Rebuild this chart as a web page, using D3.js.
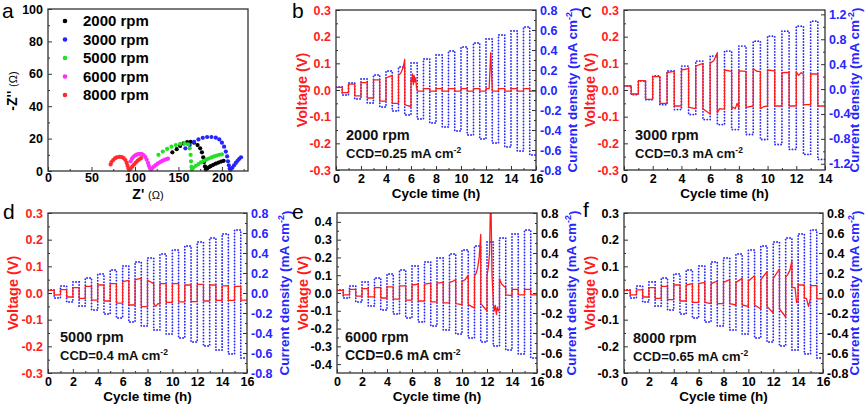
<!DOCTYPE html>
<html><head><meta charset="utf-8">
<script src="https://cdn.jsdelivr.net/npm/d3@7"></script>
<style>
body{margin:0;background:#fff}
svg{font-family:"Liberation Sans",Arial,sans-serif;font-weight:bold}
</style></head><body>
<svg id="chart" width="865" height="409"></svg>
<script>
// ---------- DATA ----------
const eisLegend = ["2000 rpm","3000 rpm","5000 rpm","6000 rpm","8000 rpm"];
const eisColors = ["#000000","#2424ff","#22e022","#ff2cff","#ff2a2a"];
const eis2000 = [[143,11.5],[148,13.5],[152,15.5],[156,17],[160,17.8],[164,18],[168,17.5],[172,16],[175,14],[177,11.5],[178.5,8.5],[179.5,5.5],[180.5,2.8],[181.5,1],[183,1.5],[185,2.3],[187,3],[190,3.8],[193,4.5],[196,5.2],[199,5.8],[202,6.3]];
const eis3000 = [[158,14],[163,16],[168,18],[173,19.5],[178,20.5],[183,21],[188,21],[193,20.6],[197,19.5],[200,17.5],[202.5,15],[204.5,12],[206,9],[207,6],[208,3.5],[209,1.5],[210,0.8],[212,2],[214,3.5],[216,5],[218,6.3],[220,7.5],[222,8.5]];
const eis5000 = [[127,10],[132,12],[137,13.6],[142,15],[147,16],[152,16.7],[157,17],[161,16.5],[163,14],[164,10],[164.5,6],[165,2.5],[165.5,1],[167,2],[170,3.2],[173,4.3],[176,5.3],[179,6.2],[182,7],[185,7.7],[188,8.4],[191,9],[194,9.5],[197,10],[200,10.3]];
const eis6000 = [[95,6],[96.5,7.5],[98,8.6],[100,9.5],[102,10.1],[104,10.5],[106,10.6],[108,10.4],[110,9.8],[112,8.6],[113.5,7],[115,5],[116,3.2],[117,1.8],[118.5,1],[120,1.8],[122,2.8],[124,3.7],[126,4.5],[128,5.2],[130,5.8],[132,6.4],[134,6.9],[136,7.3],[138,7.6]];
const eis8000 = [[72,4],[73,5.5],[75,6.8],[77,7.8],[79,8.4],[82,8.7],[85,8.6],[87,8],[89,6.8],[90.5,5],[91.5,3.2],[92.5,1.5],[93.5,0.8],[95,1.5],[97,2.8],[99,4],[101,5.2],[103,6.3],[105,7.2],[107,8]];
const eisXTicks = [0,50,100,150,200];
const eisXMinor = [25,75,125,175,225];
const eisYTicks = [0,20,40,60,80,100];
const eisYMinor = [10,30,50,70,90];

const timeTicks16 = [0,2,4,6,8,10,12,14,16];
const timeMinor16 = [1,3,5,7,9,11,13,15];
const timeTicks14 = [0,2,4,6,8,10,12,14];
const timeMinor14 = [1,3,5,7,9,11,13];
const voltTicks = [-0.3,-0.2,-0.1,0,0.1,0.2,0.3];
const voltMinor = [-0.25,-0.15,-0.05,0.05,0.15,0.25];
const voltTicksE = [-0.4,-0.3,-0.2,-0.1,0,0.1,0.2,0.3,0.4];
const voltMinorE = [-0.35,-0.25,-0.15,-0.05,0.05,0.15,0.25,0.35];
const currentTicks = [-0.8,-0.6,-0.4,-0.2,0,0.2,0.4,0.6,0.8];
const currentMinor = [-0.7,-0.5,-0.3,-0.1,0.1,0.3,0.5,0.7];
const currentTicksC = [-1.2,-0.8,-0.4,0,0.4,0.8,1.2];
const currentMinorC = [-1.0,-0.6,-0.2,0.2,0.6,1.0];

// current amplitude for each half-hour step (sign alternates +,-)
const currentHalf = [0.03,0.05,0.07,0.09,0.11,0.13,0.15,0.17,0.19,0.21,0.23,0.25,0.27,0.29,0.31,0.33,0.35,0.37,0.39,0.41,0.43,0.45,0.47,0.49,0.51,0.53,0.55,0.57,0.59,0.61,0.63,0.65];
const currentHalfC = [0.05,0.09,0.13,0.17,0.21,0.25,0.29,0.33,0.37,0.41,0.45,0.49,0.53,0.57,0.61,0.65,0.69,0.73,0.77,0.81,0.85,0.89,0.93,0.97,1.01,1.05,1.09,1.13];

// voltage samples within each half-hour step
const voltB = [0.01,-0.01,0.022,-0.022,0.028,-0.03,0.038,-0.042,[0.045,0.05,0.055],-0.05,[0.055,0.06,0.07,0.085,0.115],[-0.055,-0.058,-0.06,-0.062],[0.04,0.03,0.06,0.02,0.055,0.03,0.045,0.01,0.0],-0.004,0.005,-0.004,0.005,-0.004,0.005,-0.004,0.005,-0.004,0.005,-0.004,[0.005,0.005,0.005,0.14,0.005],-0.004,0.005,-0.004,0.005,-0.004,0.005,-0.004];
const voltC = [0.015,-0.015,0.035,-0.035,0.05,-0.05,[0.065,0.07],-0.06,[0.075,0.08],[-0.065,-0.07],[0.09,0.1],[-0.07,-0.09],[0.1,0.11,0.14],[-0.085,-0.07,-0.072,-0.07],[0.075,0.07],[-0.07,-0.065,-0.07,-0.05,-0.068],[0.072,0.07],[-0.065,-0.06],[0.08,0.07,0.07],[-0.07,-0.062,-0.06],[0.075,0.072],-0.06,[0.065,0.066],-0.06,[0.068,0.055,0.065,0.06],-0.055,0.06,-0.06];
const voltD = [0.01,-0.007,0.013,-0.015,0.02,-0.02,0.025,-0.027,0.03,-0.03,0.035,-0.038,[0.043,0.047],-0.045,[0.05,0.055],[-0.05,-0.052],[0.048,0.035],[-0.04,-0.05,-0.04,-0.042],0.035,-0.035,0.035,-0.033,0.03,-0.032,0.032,-0.03,0.03,-0.028,0.027,-0.028,0.025,-0.027];
const voltE = [0.015,-0.01,0.02,-0.018,0.025,-0.022,0.03,-0.028,0.035,-0.035,0.04,-0.04,[0.045,0.05],-0.045,[0.05,0.055],-0.05,[0.055,0.06],-0.055,[0.06,0.065,0.075],[-0.06,-0.065],[0.065,0.075,0.1],[-0.065,-0.075,-0.085],[0.095,0.11,0.14,0.2,0.33],[-0.06,-0.08,-0.1],[0.1,0.14,0.22,0.6,0.1,-0.04],[-0.06,-0.1,-0.07,-0.12,-0.08,-0.1,-0.09],[0.08,0.05,0.04,0.03],[-0.01,-0.015],0.02,-0.01,0.02,-0.01];
const voltF = [0.01,-0.007,0.012,-0.015,0.02,-0.02,0.025,-0.025,0.03,-0.03,[0.03,0.035],-0.035,[0.035,0.04],[-0.035,-0.04],[0.035,0.045],-0.04,[0.04,0.05],[-0.04,-0.045],[0.04,0.055],[-0.045,-0.05],[0.045,0.065],[-0.045,-0.06],[0.05,0.08],[-0.05,-0.075],[0.055,0.09],[-0.06,-0.09],[0.06,0.07,0.085,0.12],[0.02,0.02,0.02,-0.035,-0.03],0.03,[-0.02,-0.02,-0.05,-0.02],0.028,-0.022];

const rpmLabels = ["2000 rpm","3000 rpm","5000 rpm","6000 rpm","8000 rpm"];
const ccdValues = ["0.25","0.3","0.4","0.6","0.65"];

// ---------- DRAW ----------
const svg = d3.select("#chart");
const RED = "#ff1c1c", BLUE = "#2626ff", FRAME = "#333333";
const FONT = "'Liberation Sans', Arial, sans-serif";
const TICK_FS = 12.5;
const fmt1 = v => (Math.abs(v) < 1e-9 ? 0 : v).toFixed(1);

function styleAxis(a, color){
  a.attr("font-family", FONT).attr("font-size", TICK_FS).attr("font-weight","bold");
  a.select(".domain").remove();
  a.selectAll("line").attr("stroke", FRAME).attr("stroke-width", 1);
  a.selectAll("text").attr("fill", color);
}
function axisPair(g, gen, ticks, minor, fmt, transform, color, pad){
  const a = g.append("g").attr("transform", transform)
    .call(gen.tickValues(ticks).tickSizeInner(-4).tickSizeOuter(0).tickPadding(pad).tickFormat(fmt));
  styleAxis(a, color);
  const m = g.append("g").attr("transform", transform)
    .call(gen.tickValues(minor).tickSizeInner(-2).tickSizeOuter(0).tickFormat(""));
  styleAxis(m, color);
}
function rotText(g, x, y, angle, color, size){
  return g.append("text").attr("transform", `translate(${x},${y}) rotate(${angle})`)
    .attr("text-anchor","middle").attr("dy","0.35em").attr("fill", color)
    .attr("font-size", size).attr("font-weight","bold");
}
function letter(txt, x, y){
  svg.append("text").attr("x", x).attr("y", y).text(txt)
    .attr("font-size", 21).attr("font-weight","normal").attr("fill","#000");
}

// ---- panel a ----
(function(){
  const L=48, R=248, T=9, B=171;
  const g = svg.append("g");
  const x = d3.scaleLinear().domain([0,230]).range([L,R]);
  const y = d3.scaleLinear().domain([0,100]).range([B,T]);
  const series = [eis2000, eis3000, eis5000, eis6000, eis8000];
  series.forEach((s,i)=>{
    g.append("g").selectAll("circle").data(s).join("circle")
      .attr("cx", d=>x(d[0])).attr("cy", d=>y(d[1])).attr("r", 2.1)
      .attr("fill", eisColors[i]);
  });
  g.append("rect").attr("x",L).attr("y",T).attr("width",R-L).attr("height",B-T)
    .attr("fill","none").attr("stroke",FRAME).attr("stroke-width",1.3);
  axisPair(g, d3.axisBottom(x), eisXTicks, eisXMinor, d3.format("d"), `translate(0,${B})`, "#000", 2.5);
  axisPair(g, d3.axisLeft(y), eisYTicks, eisYMinor, d3.format("d"), `translate(${L},0)`, "#000", 5);
  const lg = g.append("g");
  eisLegend.forEach((name,i)=>{
    const cy = 21 + i*18.5;
    lg.append("circle").attr("cx",65).attr("cy",cy).attr("r",2.3).attr("fill",eisColors[i]);
    lg.append("text").attr("x",83).attr("y",cy+5).text(name).attr("font-size",15).attr("fill","#000");
  });
  const yt = rotText(g, 12, 91, -90, "#000", 14);
  yt.append("tspan").text("-Z'' ");
  yt.append("tspan").text("(Ω)").attr("font-size",11).attr("font-weight","normal");
  const xt = g.append("text").attr("x",148).attr("y",199).attr("text-anchor","middle").attr("font-size",14);
  xt.append("tspan").text("Z' ");
  xt.append("tspan").text("(Ω)").attr("font-size",11).attr("font-weight","normal");
  letter("a", 2, 18);
})();

// ---- panels b-f ----
const panels = [
  {L:336,R:536,T:10,B:170,xMax:16,xT:timeTicks16,xM:timeMinor16,yL:[-0.3,0.3],yLT:voltTicks,yLM:voltMinor,yR:[-0.8,0.8],yRT:currentTicks,yRM:currentMinor,cur:currentHalf,volt:voltB,lc:RED,rc:BLUE,let:"b",lx:292,ly:18,vx:302,cx:572,ax:346,ay:140,ccdSize:13},
  {L:624,R:825,T:10,B:170,xMax:14,xT:timeTicks14,xM:timeMinor14,yL:[-0.3,0.3],yLT:voltTicks,yLM:voltMinor,yR:[-1.3,1.27],yRT:currentTicksC,yRM:currentMinorC,cur:currentHalfC,volt:voltC,lc:RED,rc:BLUE,let:"c",lx:581,ly:18,vx:590,cx:854,ax:635,ay:140,ccdSize:13},
  {L:48,R:247,T:213,B:373,xMax:16,xT:timeTicks16,xM:timeMinor16,yL:[-0.3,0.3],yLT:voltTicks,yLM:voltMinor,yR:[-0.8,0.8],yRT:currentTicks,yRM:currentMinor,cur:currentHalf,volt:voltD,lc:RED,rc:BLUE,let:"d",lx:3,ly:219,vx:13,cx:284,ax:60,ay:342,ccdSize:13},
  {L:337,R:537,T:213,B:373,xMax:16,xT:timeTicks16,xM:timeMinor16,yL:[-0.45,0.45],yLT:voltTicksE,yLM:voltMinorE,yR:[-0.8,0.8],yRT:currentTicks,yRM:currentMinor,cur:currentHalf,volt:voltE,lc:"#000",rc:"#000",let:"e",lx:292,ly:219,vx:303,cx:571,ax:345,ay:342,ccdSize:14},
  {L:624,R:823,T:213,B:373,xMax:16,xT:timeTicks16,xM:timeMinor16,yL:[-0.3,0.3],yLT:voltTicks,yLM:voltMinor,yR:[-0.8,0.8],yRT:currentTicks,yRM:currentMinor,cur:currentHalf,volt:voltF,lc:"#000",rc:"#000",let:"f",lx:583,ly:217,vx:590,cx:854,ax:633,ay:343,ccdSize:13}
];

panels.forEach((p,idx)=>{
  const g = svg.append("g");
  const x = d3.scaleLinear().domain([0,p.xMax]).range([p.L,p.R]);
  const yL = d3.scaleLinear().domain(p.yL).range([p.B,p.T]);
  const yR = d3.scaleLinear().domain(p.yR).range([p.B,p.T]);
  const clipId = "clip"+idx;
  svg.append("defs").append("clipPath").attr("id",clipId).append("rect")
    .attr("x",p.L).attr("y",p.T).attr("width",p.R-p.L).attr("height",p.B-p.T);

  const curPts = [];
  p.cur.forEach((a,j)=>{ const v = j%2===0 ? a : -a; curPts.push([0.5*j, v],[0.5*j+0.5, v]); });
  g.append("path").attr("clip-path",`url(#${clipId})`)
    .attr("d", d3.line().x(d=>x(d[0])).y(d=>yR(d[1]))(curPts))
    .attr("fill","none").attr("stroke",BLUE).attr("stroke-width",1.8)
    .attr("stroke-dasharray","0.1 2.9").attr("stroke-linecap","round");

  const vPts = [];
  p.volt.forEach((s,j)=>{
    const arr = Array.isArray(s) ? s : [s,s];
    arr.forEach((v,i)=>vPts.push([0.5*j + 0.5*i/(arr.length-1), v]));
  });
  g.append("path").attr("clip-path",`url(#${clipId})`)
    .attr("d", d3.line().x(d=>x(d[0])).y(d=>yL(d[1]))(vPts))
    .attr("fill","none").attr("stroke",RED).attr("stroke-width",1.3).attr("stroke-linejoin","round");

  g.append("rect").attr("x",p.L).attr("y",p.T).attr("width",p.R-p.L).attr("height",p.B-p.T)
    .attr("fill","none").attr("stroke",FRAME).attr("stroke-width",1.3);

  axisPair(g, d3.axisBottom(x), p.xT, p.xM, d3.format("d"), `translate(0,${p.B})`, "#000", 4.5);
  axisPair(g, d3.axisLeft(yL), p.yLT, p.yLM, fmt1, `translate(${p.L},0)`, p.lc, 5);
  axisPair(g, d3.axisRight(yR), p.yRT, p.yRM, fmt1, `translate(${p.R},0)`, p.rc, 4);

  g.append("text").attr("x",(p.L+p.R)/2).attr("y",p.B+28).attr("text-anchor","middle")
    .attr("font-size",13.5).attr("fill","#000").text("Cycle time (h)");
  rotText(g, p.vx, (p.T+p.B)/2, -90, RED, 14.5).text("Voltage (V)");
  const ct = rotText(g, p.cx, (p.T+p.B)/2, -90, BLUE, 13.5);
  ct.append("tspan").text("Current density (mA cm");
  ct.append("tspan").text("-2").attr("font-size",9).attr("dy","-0.5em");
  ct.append("tspan").text(")").attr("dy","0.5em");

  g.append("text").attr("x",p.ax).attr("y",p.ay).attr("font-size",14.5).attr("fill","#111").text(rpmLabels[idx]);
  const cc = g.append("text").attr("x",p.ax).attr("y",p.ay+18).attr("font-size",p.ccdSize).attr("fill","#111");
  cc.append("tspan").text(`CCD=${ccdValues[idx]} mA cm`);
  cc.append("tspan").text("-2").attr("font-size",8.5).attr("dy","-0.6em");
  letter(p.let, p.lx, p.ly);
});
</script>
</body></html>
